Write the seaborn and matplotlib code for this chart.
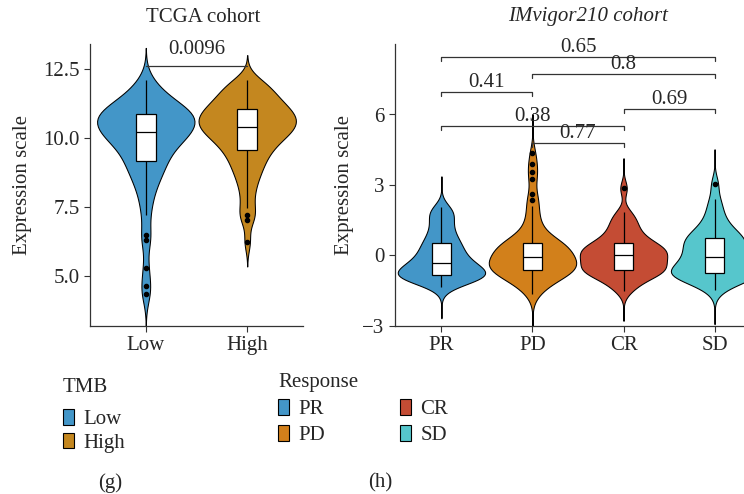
import numpy as np
import pandas as pd
import matplotlib
matplotlib.use("Agg")
import matplotlib.pyplot as plt
from matplotlib.patches import Patch
import seaborn as sns

tmb_groups = ["Low", "High"]
tmb_low = [4.35, 4.65, 5.3, 6.3, 6.5, 7.2, 7.6, 7.95, 8.2, 8.4, 8.55, 8.7, 8.85, 8.95,
           9.05, 9.15, 9.25, 9.35, 9.45, 9.55, 9.65, 9.72, 9.8, 9.87, 9.93, 9.98,
           10.03, 10.08, 10.12, 10.16, 10.2, 10.25, 10.3, 10.35, 10.4, 10.45, 10.5,
           10.54, 10.58, 10.62, 10.66, 10.7, 10.74, 10.78, 10.82, 10.85, 10.88,
           10.92, 10.96, 11.0, 11.05, 11.1, 11.16, 11.22, 11.3, 11.38, 11.47, 11.58,
           11.7, 11.88, 12.1]
tmb_high = [6.25, 7.05, 7.2, 7.45, 7.8, 8.1, 8.35, 8.55, 8.72, 8.87, 9.0, 9.12, 9.24,
            9.35, 9.45, 9.55, 9.63, 9.7, 9.78, 9.85, 9.92, 9.98, 10.04, 10.1, 10.15,
            10.2, 10.24, 10.28, 10.32, 10.36, 10.4, 10.45, 10.5, 10.54, 10.58, 10.62,
            10.66, 10.7, 10.74, 10.78, 10.82, 10.86, 10.9, 10.95, 11.0, 11.05, 11.1,
            11.15, 11.2, 11.26, 11.32, 11.38, 11.45, 11.52, 11.6, 11.68, 11.76,
            11.85, 11.94, 12.02, 12.1]
tmb_pvalue = "0.0096"

# IMvigor210 cohort: expression by response
resp_groups = ["PR", "PD", "CR", "SD"]
resp_pr = [-1.35, -1.2, -1.1, -1.05, -1.0, -0.97, -0.93, -0.9, -0.87, -0.85, -0.82,
           -0.78, -0.72, -0.68, -0.63, -0.58, -0.53, -0.48, -0.43, -0.38, -0.33,
           -0.25, -0.18, -0.1, -0.02, 0.08, 0.16, 0.25, 0.35, 0.45, 0.54, 0.65,
           0.78, 0.92, 1.08, 1.25, 1.45, 1.62, 1.78, 1.92, 2.05]
resp_pd = [-1.63, -1.45, -1.32, -1.2, -1.1, -1.02, -0.95, -0.89, -0.84, -0.8, -0.76,
           -0.72, -0.69, -0.66, -0.63, -0.61, -0.57, -0.53, -0.5, -0.46, -0.43,
           -0.39, -0.36, -0.32, -0.29, -0.25, -0.21, -0.17, -0.13, -0.1, -0.07,
           -0.02, 0.03, 0.08, 0.13, 0.18, 0.23, 0.28, 0.33, 0.37, 0.41, 0.45, 0.48,
           0.51, 0.53, 0.54, 0.62, 0.72, 0.84, 0.98, 1.14, 1.32, 1.55, 1.8, 2.1,
           2.35, 2.6, 3.25, 3.55, 3.9, 4.35]
resp_cr = [-1.5, -1.3, -1.15, -1.0, -0.9, -0.83, -0.77, -0.72, -0.68, -0.64, -0.61,
           -0.55, -0.48, -0.42, -0.36, -0.3, -0.24, -0.18, -0.12, -0.06, 0.0, 0.05,
           0.1, 0.15, 0.2, 0.25, 0.3, 0.35, 0.41, 0.47, 0.53, 0.62, 0.72, 0.84,
           0.97, 1.12, 1.28, 1.45, 1.63, 1.84, 2.86]
resp_sd = [-1.45, -1.25, -1.12, -1.03, -0.96, -0.9, -0.86, -0.82, -0.79, -0.77,
           -0.75, -0.7, -0.64, -0.57, -0.5, -0.43, -0.36, -0.29, -0.21, -0.14,
           -0.07, 0.01, 0.1, 0.19, 0.28, 0.37, 0.45, 0.53, 0.6, 0.67, 0.74, 0.82,
           0.92, 1.02, 1.14, 1.3, 1.5, 1.75, 2.05, 2.4, 3.05]
# pairwise comparisons, in stacking order (bottom to top)
resp_pairs = [("PD", "CR"), ("PR", "CR"), ("CR", "SD"), ("PR", "PD"), ("PD", "SD"), ("PR", "SD")]
resp_pvalues = ["0.77", "0.38", "0.69", "0.41", "0.8", "0.65"]

tmb_colors = {"Low": "#4396C8", "High": "#C4871F"}
resp_colors = {"PR": "#4396C8", "PD": "#D2801B", "CR": "#C44C34", "SD": "#56C6CC"}

df_tmb = pd.DataFrame({"group": ["Low"] * len(tmb_low) + ["High"] * len(tmb_high),
                       "value": tmb_low + tmb_high})
resp_values = {"PR": resp_pr, "PD": resp_pd, "CR": resp_cr, "SD": resp_sd}
df_resp = pd.DataFrame({"group": [g for g in resp_groups for _ in resp_values[g]],
                        "value": [v for g in resp_groups for v in resp_values[g]]})

sns.set_theme(style="ticks")
plt.rcParams["font.family"] = ["Liberation Serif", "DejaVu Serif"]
FS = 15
plt.rcParams["font.size"] = FS

fig = plt.figure(figsize=(7.44, 4.94), dpi=100)
ax1 = fig.add_axes([90 / 744, 1 - 326 / 494, 213 / 744, 282 / 494])
ax2 = fig.add_axes([395 / 744, 1 - 326 / 494, 366 / 744, 282 / 494])


def violin_box(ax, df, order, colors, bw, cut):
    sns.violinplot(data=df, x="group", y="value", hue="group", order=order, hue_order=order,
                   palette=colors, inner=None, density_norm="width", width=0.96,
                   bw_adjust=bw, cut=cut, linewidth=0.75, linecolor="black",
                   saturation=1, legend=False, ax=ax)
    sns.boxplot(data=df, x="group", y="value", order=order, width=0.2, color="white",
                linecolor="black", linewidth=0.9, showcaps=False, saturation=1,
                flierprops=dict(marker="o", markerfacecolor="black",
                                markeredgecolor="black", markersize=3), ax=ax)


def bracket(ax, x1, x2, y, tip, label, off):
    ax.plot([x1, x1, x2, x2], [y - tip, y, y, y - tip], color="#333333", lw=0.9)
    ax.annotate(label, ((x1 + x2) / 2, y), xytext=(0, off), textcoords="offset points",
                ha="center", va="bottom", fontsize=FS)


violin_box(ax1, df_tmb, tmb_groups, tmb_colors, 0.6, 2.6)
violin_box(ax2, df_resp, resp_groups, resp_colors, 0.7, 4.2)

# panel g
ax1.set_xlim(-0.55, 1.55)
ax1.set_ylim(3.2, 13.4)
ax1.set_yticks([5.0, 7.5, 10.0, 12.5])
ax1.set_yticklabels(["5.0", "7.5", "10.0", "12.5"])
top1 = max(tmb_low + tmb_high) + 0.5
bracket(ax1, 0, 1, top1, 0.0, tmb_pvalue, 5)

# panel h
ax2.set_xlim(-0.51, 3.51)
ax2.set_ylim(-3, 9.0)
ax2.set_yticks([-3, 0, 3, 6])
base = max(max(v) for v in resp_values.values()) + 0.42
step = 0.0613 * 12
for i, ((a, b), p) in enumerate(zip(resp_pairs, resp_pvalues)):
    bracket(ax2, resp_groups.index(a), resp_groups.index(b), base + i * step, 0.17, p, 0)

for ax in (ax1, ax2):
    ax.set_xlabel("")
    ax.set_ylabel("Expression scale", fontsize=FS)
    ax.tick_params(axis="both", labelsize=FS, length=4.5, width=0.8, color="#333333", pad=3)
    for s in ("left", "bottom"):
        ax.spines[s].set_linewidth(0.9)
        ax.spines[s].set_color("#333333")
    sns.despine(ax=ax)
ax1.yaxis.set_label_coords(-0.273, 0.5)
ax2.yaxis.set_label_coords(-0.112, 0.5)

fig.text(203 / 744, 1 - 17 / 494, "TCGA cohort", ha="center", va="center", fontsize=FS)
fig.text(588 / 744, 1 - 17 / 494, "IMvigor210 cohort", ha="center", va="center",
         fontsize=FS, style="italic")

# legends (titles drawn as separate text)
fig.text(63 / 744, 1 - 387 / 494, "TMB", ha="left", va="center", fontsize=FS)
h1 = [Patch(facecolor=tmb_colors[g], edgecolor="black", linewidth=0.8) for g in tmb_groups]
fig.legend(h1, tmb_groups, loc="center left", bbox_to_anchor=(63 / 744, 1 - 431 / 494),
           frameon=False, fontsize=FS, handlelength=0.55, handleheight=0.8,
           handletextpad=0.45, borderpad=0, borderaxespad=0, labelspacing=0.15)
fig.text(278 / 744, 1 - 382 / 494, "Response", ha="left", va="center", fontsize=FS)
h2 = [Patch(facecolor=resp_colors[g], edgecolor="black", linewidth=0.8) for g in resp_groups]
fig.legend(h2, resp_groups, ncol=2, loc="center left", bbox_to_anchor=(278 / 744, 1 - 422 / 494),
           frameon=False, fontsize=FS, handlelength=0.55, handleheight=0.8,
           handletextpad=0.45, borderpad=0, borderaxespad=0, labelspacing=0.3,
           columnspacing=3.55)

fig.text(110 / 744, 1 - 483 / 494, "(g)", ha="center", va="center", fontsize=FS)
fig.text(380 / 744, 1 - 483 / 494, "(h)", ha="center", va="center", fontsize=FS)

fig.savefig("out.png", dpi=100)
